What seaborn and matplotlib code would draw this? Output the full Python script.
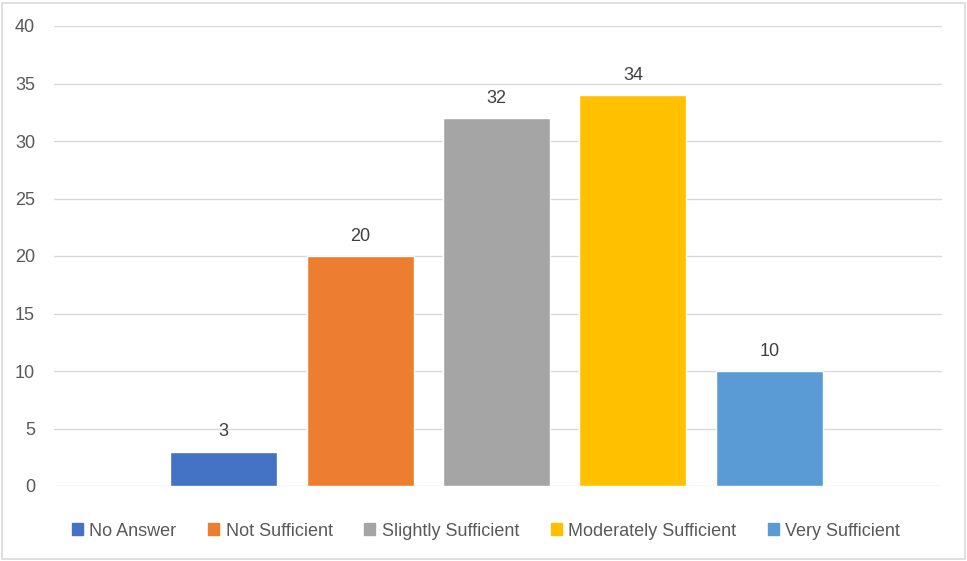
import matplotlib
matplotlib.use("Agg")
import matplotlib.pyplot as plt
import seaborn as sns
import pandas as pd
from matplotlib.patches import Rectangle

categories = ["No Answer", "Not Sufficient", "Slightly Sufficient",
              "Moderately Sufficient", "Very Sufficient"]
counts = [3, 20, 32, 34, 10]
colors = ["#4472C4", "#ED7D31", "#A5A5A5", "#FFC000", "#5B9BD5"]
yticks = [0, 5, 10, 15, 20, 25, 30, 35, 40]

df = pd.DataFrame({"group": [""] * len(categories),
                   "response": categories,
                   "count": counts})

sns.set_theme(style="white")
plt.rcParams["font.family"] = ["Liberation Sans", "DejaVu Sans"]

fig = plt.figure(figsize=(9.67, 5.61), dpi=100)
ax = fig.add_axes([54 / 967, 75 / 561, 888 / 967, 460 / 561])

sns.barplot(data=df, x="group", y="count", hue="response",
            hue_order=categories, palette=colors, width=0.768, gap=0.215,
            saturation=1, legend=False, ax=ax)

for cont in ax.containers:
    ax.bar_label(cont, padding=8, fontsize=13, color="#404040")

ax.set_ylim(0, 40)
ax.set_xlim(-0.4983, 0.5017)
ax.set_yticks(yticks)
ax.set_yticklabels([str(t) for t in yticks], fontsize=13, color="#595959")
ax.set_xticks([])
ax.set_xlabel("")
ax.set_ylabel("")
ax.tick_params(axis="y", length=0, pad=13.7)
ax.yaxis.grid(True, color="#d9d9d9", linewidth=1)
ax.set_axisbelow(True)
for s in ax.spines.values():
    s.set_visible(False)

handles = [plt.Rectangle((0, 0), 1, 1, color=c) for c in colors]
fig.legend(handles, categories, loc="center", ncol=5,
           bbox_to_anchor=(486 / 967, 1 - 531 / 561), frameon=False,
           fontsize=13, labelcolor="#595959", handlelength=0.62,
           handleheight=0.62, handletextpad=0.35, columnspacing=1.75)

fig.patches.append(Rectangle((2 / 967, 2 / 561), 963 / 967, 556 / 561,
                             transform=fig.transFigure, fill=False,
                             edgecolor="#d9d9d9", linewidth=1.2))

fig.savefig("out.png", dpi=100, facecolor="white")
